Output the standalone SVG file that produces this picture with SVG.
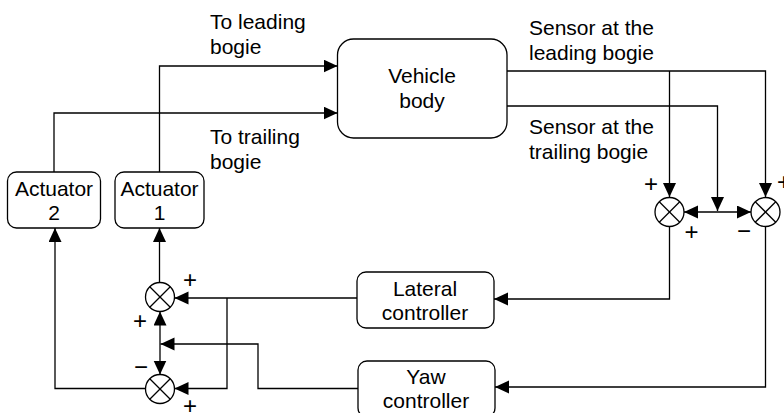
<svg xmlns="http://www.w3.org/2000/svg" width="784" height="413" viewBox="0 0 784 413">
  <style>
    .box { fill: #fff; stroke: #000; stroke-width: 1.3; }
    .wire { fill: none; stroke: #000; stroke-width: 1.3; }
    text { font-family: "Liberation Sans", Arial, Helvetica, sans-serif; font-size: 21px; fill: #000; }
    .c { text-anchor: middle; }
    .sign { font-size: 24px; text-anchor: middle; }
  </style>
  <defs>
    <marker id="arrow" markerUnits="userSpaceOnUse" markerWidth="15" markerHeight="14" refX="14" refY="6.5" orient="auto-start-reverse">
      <path d="M0,0 L14,6.5 L0,13 Z" fill="#000"/>
    </marker>
    <!-- summing junction: circle with a diagonal cross -->
    <g id="sumMark" fill="#fff" stroke="#000" stroke-width="1.3">
      <circle cx="0" cy="0" r="14.5"/>
      <line x1="-10.25" y1="-10.25" x2="10.25" y2="10.25"/>
      <line x1="-10.25" y1="10.25" x2="10.25" y2="-10.25"/>
    </g>
  </defs>

  <rect width="784" height="413" fill="#fff"/>

  <!-- connectors -->
  <g id="connectors">
    <!-- actuators to vehicle body -->
    <path class="wire" d="M54,172 V113 H337.5" marker-end="url(#arrow)"/>
    <path class="wire" d="M159.5,172 V66 H337.5" marker-end="url(#arrow)"/>
    <!-- sensors to the right-hand junctions -->
    <path class="wire" d="M507,71 H765.5 V197" marker-end="url(#arrow)"/>
    <path class="wire" d="M669.5,71 V197" marker-end="url(#arrow)"/>
    <path class="wire" d="M507,106 H717.5 V211" marker-end="url(#arrow)"/>
    <path class="wire" d="M684,212 H751" marker-start="url(#arrow)" marker-end="url(#arrow)"/>
    <!-- junctions to controllers -->
    <path class="wire" d="M669.5,226.5 V299 H494" marker-end="url(#arrow)"/>
    <path class="wire" d="M765.5,226.5 V387 H495" marker-end="url(#arrow)"/>
    <!-- controllers to the left-hand junctions -->
    <path class="wire" d="M357,298 H174.5" marker-end="url(#arrow)"/>
    <path class="wire" d="M227,298 V388.5 H174.5" marker-end="url(#arrow)"/>
    <path class="wire" d="M358,388.5 H258 V344 H160.5" marker-end="url(#arrow)"/>
    <path class="wire" d="M160,311.5 V374.5" marker-start="url(#arrow)" marker-end="url(#arrow)"/>
    <!-- junctions to actuators -->
    <path class="wire" d="M159.5,282.5 V228" marker-end="url(#arrow)"/>
    <path class="wire" d="M145.5,388.5 H55 V228" marker-end="url(#arrow)"/>
  </g>

  <!-- blocks -->
  <g id="vehicle-body">
    <rect class="box" x="337.5" y="39" width="169.5" height="99" rx="16"/>
    <text class="c" x="422" y="83">Vehicle</text>
    <text class="c" x="422" y="108">body</text>
  </g>
  <g id="actuator-2">
    <rect class="box" x="7.5" y="172" width="93" height="56" rx="9"/>
    <text class="c" x="54" y="195.5">Actuator</text>
    <text class="c" x="54" y="220">2</text>
  </g>
  <g id="actuator-1">
    <rect class="box" x="115" y="172" width="89" height="56" rx="9"/>
    <text class="c" x="159.5" y="195.5">Actuator</text>
    <text class="c" x="159.5" y="220">1</text>
  </g>
  <g id="lateral-controller">
    <rect class="box" x="357" y="272" width="137" height="56" rx="9"/>
    <text class="c" x="425" y="295.5">Lateral</text>
    <text class="c" x="425" y="320">controller</text>
  </g>
  <g id="yaw-controller">
    <rect class="box" x="358" y="361" width="137" height="56" rx="9"/>
    <text class="c" x="426" y="383.5">Yaw</text>
    <text class="c" x="426" y="408">controller</text>
  </g>

  <!-- summing junctions -->
  <g id="sum-lateral-sensor"><use href="#sumMark" x="669.5" y="212"/></g>
  <g id="sum-yaw-sensor"><use href="#sumMark" x="765.5" y="212"/></g>
  <g id="sum-actuator-1"><use href="#sumMark" x="160" y="297"/></g>
  <g id="sum-actuator-2"><use href="#sumMark" x="160" y="389"/></g>

  <!-- signal labels -->
  <g id="labels">
    <text x="210" y="28.5">To leading</text>
    <text x="210" y="53.5">bogie</text>
    <text x="210" y="143.5">To trailing</text>
    <text x="210" y="168.5">bogie</text>
    <text x="529" y="35">Sensor at the</text>
    <text x="529" y="60">leading bogie</text>
    <text x="529" y="133.5">Sensor at the</text>
    <text x="529" y="158.5">trailing bogie</text>
  </g>

  <!-- junction signs -->
  <g id="signs">
    <text class="sign" x="651" y="192">+</text>
    <text class="sign" x="691.5" y="240">+</text>
    <text class="sign" x="744" y="238.5">−</text>
    <text class="sign" x="784" y="190">+</text>
    <text class="sign" x="190" y="288">+</text>
    <text class="sign" x="140" y="328.5">+</text>
    <text class="sign" x="141" y="375">−</text>
    <text class="sign" x="190" y="413.5">+</text>
  </g>
</svg>
